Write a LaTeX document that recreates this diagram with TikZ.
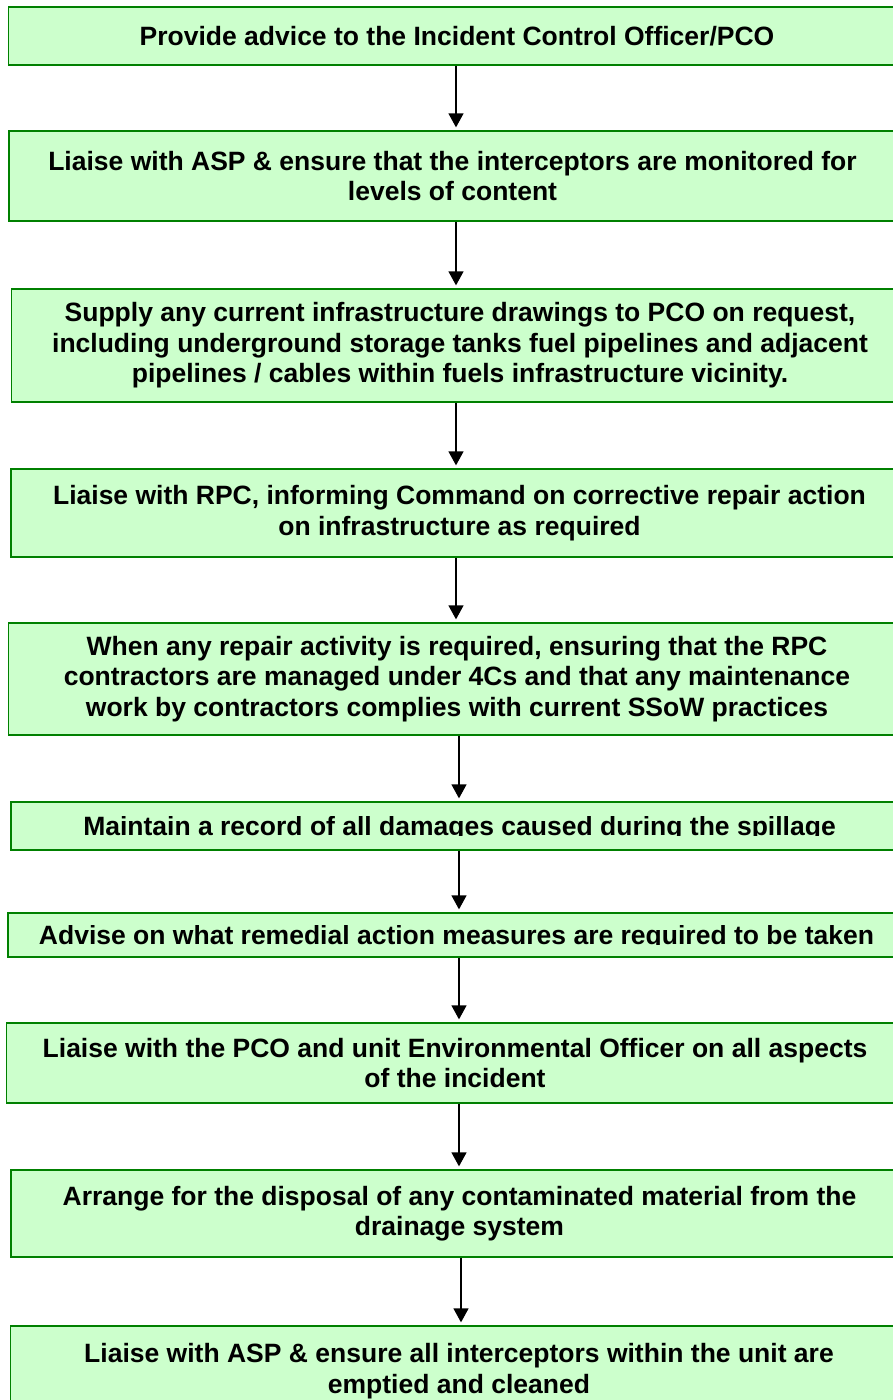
\documentclass[tikz,border=0pt]{standalone}
\usepackage{fontspec}
\setmainfont{Liberation Sans}
\usepackage{trimclip}
\usetikzlibrary{arrows.meta}
\definecolor{stepFill}{HTML}{CCFFCC}
\definecolor{stepEdge}{HTML}{008000}
\newcommand{\cutdesc}[1]{\clipbox{0pt {\depth} 0pt 0pt}{#1}}
\begin{document}
\begin{tikzpicture}[x=1pt,y=-1pt,
  stepbox/.style={draw=stepEdge,fill=stepFill,line width=1.3pt,minimum width=897pt,
    inner sep=0pt,align=center,font=\fontsize{26.5}{30.5}\selectfont\bfseries},
  flow/.style={-{Triangle[width=15pt,length=14pt]},line width=1.3pt,shorten >=3pt}]
\useasboundingbox (0,0) rectangle (893,1400);
\clip (0,0) rectangle (893,1400);
\node[stepbox,minimum height=58pt] (b1) at (457,36) {Provide advice to the Incident Control Officer/PCO};
\node[stepbox,minimum height=90pt,minimum width=887pt] (b2) at (452.5,176) {Liaise with ASP \& ensure that the interceptors are monitored for\\levels of content};
\node[stepbox,minimum height=113pt] (b3) at (460,345.5) {Supply any current infrastructure drawings to PCO on request,\\including underground storage tanks fuel pipelines and adjacent\\pipelines / cables within fuels infrastructure vicinity.};
\node[stepbox,minimum height=88pt] (b4) at (459.5,513) {Liaise with RPC, informing Command on corrective repair action\\on infrastructure as required};
\node[stepbox,minimum height=112pt] (b5) at (457,679) {When any repair activity is required, ensuring that the RPC\\contractors are managed under 4Cs and that any maintenance\\work by contractors complies with current SSoW practices};
\node[stepbox,minimum height=48pt] (b6) at (459.5,826) {\cutdesc{Maintain a record of all damages caused during the spillage}};
\node[stepbox,minimum height=44pt] (b7) at (456.5,935) {\cutdesc{Advise on what remedial action measures are required to be taken}};
\node[stepbox,minimum height=80pt] (b8) at (455,1063) {Liaise with the PCO and unit Environmental Officer on all aspects\\of the incident};
\node[stepbox,minimum height=87pt] (b9) at (459.5,1213.5) {Arrange for the disposal of any contaminated material from the\\drainage system};
\node[stepbox,minimum height=90pt] (b10) at (459,1371) {Liaise with ASP \& ensure all interceptors within the unit are\\emptied and cleaned};
\foreach \i/\j/\ax in {1/2/456,2/3/456,3/4/456,4/5/456,5/6/459,6/7/459,7/8/459,8/9/459,9/10/461} {
  \coordinate (ax) at (\ax,0);
  \draw[flow] (b\i.south -| ax) -- (b\j.north -| ax);
}
\end{tikzpicture}
\end{document}
